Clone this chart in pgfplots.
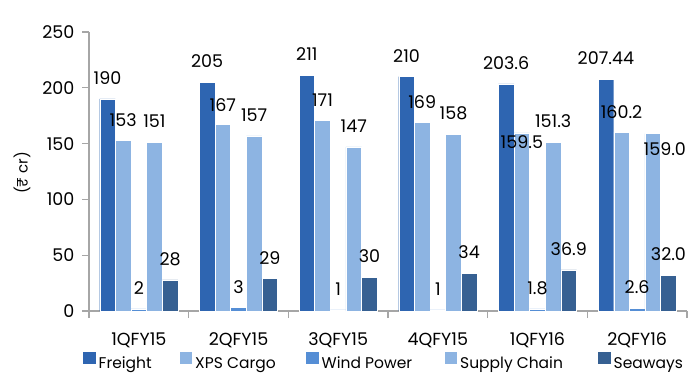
\documentclass[border=0pt]{standalone}
\usepackage{fontspec}
\setmainfont{Poppins}
\usepackage{pgfplots}
\pgfplotsset{compat=1.18}
\usepackage{pgfplotstable}

\definecolor{cFreight}{RGB}{46,101,177}
\definecolor{cXPS}{RGB}{141,180,226}
\definecolor{cWind}{RGB}{85,142,213}
\definecolor{cSupply}{RGB}{141,180,226}
\definecolor{cSea}{RGB}{54,96,146}
\definecolor{axgray}{RGB}{166,166,166}

\pgfplotstableread{
x y lbl dx dy
0 190 190 0 21
1 205 205 0 21
2 211 211 0 21
3 210 210 0 21
4 203.6 203.6 0 21
5 207.44 207.44 0 21
}\tFreight
\pgfplotstableread{
x y lbl dx dy
0 153 153 0 20
1 167 167 0 20
2 171 171 0 20
3 169 169 0 20
4 159.5 159.5 0 -9
5 160.2 160.2 0 20
}\tXPS
\pgfplotstableread{
x y lbl dx dy
0 2 2 0 21
1 3 3 0 21
2 1 1 0 21
3 1 1 0 21
4 1.8 1.8 0 21
5 2.6 2.6 0 21
}\tWind
\pgfplotstableread{
x y lbl dx dy
0 151 151 0 21
1 157 157 0 21
2 147 147 0 21
3 158 158 0 21
4 151.3 151.3 0 21
5 159.0 159.0 12 -16
}\tSupply
\pgfplotstableread{
x y lbl dx dy
0 28 28 0 21
1 29 29 0 21
2 30 30 0 21
3 34 34 0 21
4 36.9 36.9 0 21
5 32.0 32.0 0 21
}\tSea

\begin{document}
\begin{tikzpicture}[font=\fontsize{17.5pt}{20pt}\selectfont]
\begin{axis}[
  name=ax,
  scale only axis,
  width=598pt, height=279pt,
  xmin=-0.5, xmax=5.5, ymin=0, ymax=250,
  ytick={0,50,...,250},
  xtick={-0.5,0.5,...,5.5},
  xticklabels={},
  extra x ticks={0,1,2,3,4,5},
  extra x tick labels={1QFY15,2QFY15,3QFY15,4QFY15,1QFY16,2QFY16},
  extra x tick style={major tick length=0pt, xticklabel style={yshift=-18pt}},
  axis x line*=bottom, axis y line*=left,
  axis line style={axgray, line width=1.3pt, -},
  tick style={axgray, line width=1.3pt},
  major tick length=7pt,
  tick align=outside,
  /pgf/number format/assume math mode=true,
  yticklabel style={xshift=-4pt},
  every axis y label/.style={at={(axis description cs:-0.112,0.495)}, rotate=90, anchor=center, font=\fontsize{15pt}{17pt}\selectfont},
  ylabel={(₹ cr)},
  ybar=0pt,
  bar width=0.157,
  legend columns=5,
  legend style={draw=none, inner sep=0pt, at={(axis description cs:-0.01,-0.18)}, anchor=west,
    font=\fontsize{15.5pt}{18pt}\selectfont,
    nodes={inner sep=0pt}, /tikz/column sep=0pt},
  legend image code/.code={\fill[#1,draw=none] (0pt,-1pt) rectangle (12.5pt,11pt);},
  lbl/.style={nodes near coords, point meta=explicit symbolic,
    visualization depends on={\thisrow{dx}\as\labdx},
    visualization depends on={\thisrow{dy}\as\labdy},
    nodes near coords style={anchor=center, xshift=\labdx, yshift=\labdy, text=black}},
]
\addplot[fill=cFreight, draw=white, line width=0.4pt, bar shift=-0.314, lbl] table[x=x,y=y,meta=lbl] {\tFreight};
\addplot[fill=cXPS, draw=white, line width=0.4pt, bar shift=-0.157, lbl] table[x=x,y=y,meta=lbl] {\tXPS};
\addplot[fill=cWind, draw=white, line width=0.4pt, bar shift=0, lbl] table[x=x,y=y,meta=lbl] {\tWind};
\addplot[fill=cSupply, draw=white, line width=0.4pt, bar shift=0.157, lbl] table[x=x,y=y,meta=lbl] {\tSupply};
\addplot[fill=cSea, draw=white, line width=0.4pt, bar shift=0.314, lbl] table[x=x,y=y,meta=lbl] {\tSea};
\legend{\makebox[84pt][l]{\hspace{3pt}Freight},\makebox[114pt][l]{\hspace{3pt}XPS Cargo},\makebox[126pt][l]{\hspace{3pt}Wind Power},\makebox[141pt][l]{\hspace{3pt}Supply Chain},\hspace{3pt}Seaways}
\end{axis}
\pgfresetboundingbox
\path ([xshift=-89pt,yshift=-63pt]ax.south west) rectangle ([xshift=2pt,yshift=32pt]ax.north east);
\end{tikzpicture}
\end{document}
